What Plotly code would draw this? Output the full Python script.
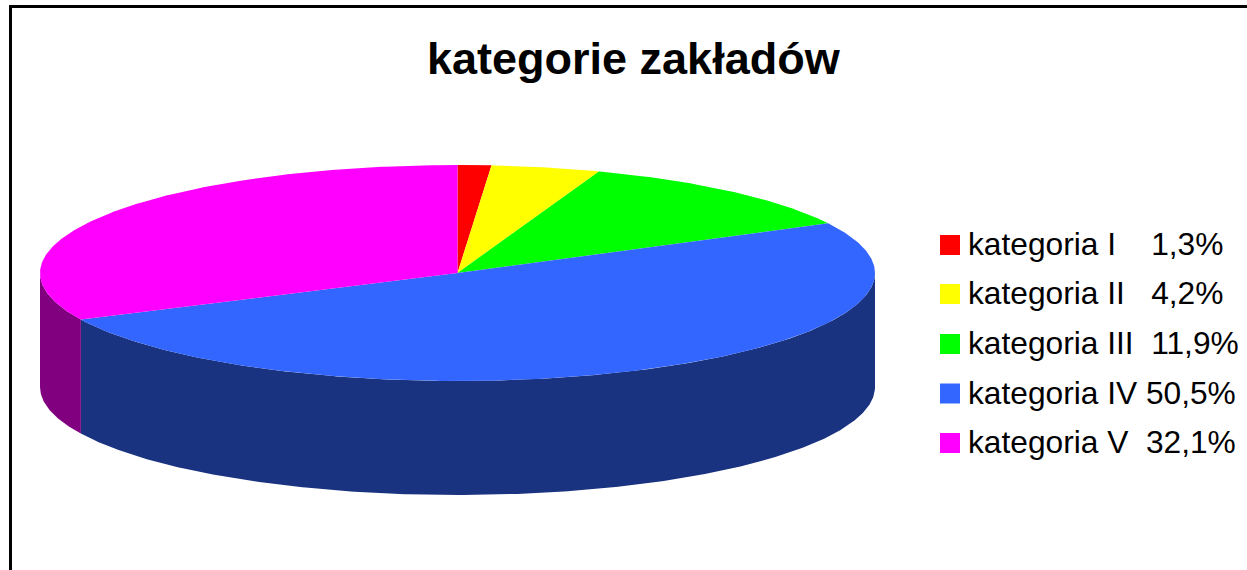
import numpy as np
import plotly.graph_objects as go

categories = ["kategoria I", "kategoria II", "kategoria III", "kategoria IV", "kategoria V"]
shares = [1.3, 4.2, 11.9, 50.5, 32.1]
share_labels = ["1,3%", "4,2%", "11,9%", "50,5%", "32,1%"]
gaps = [4, 3, 2, 1, 2]
top_colors = ["#ff0000", "#ffff00", "#00ff00", "#3366ff", "#ff00ff"]
side_colors = ["#800000", "#808000", "#008000", "#1a3380", "#800080"]
title = "kategorie zakładów"

CX, CY, RX, RY, DEPTH = 457.5, 273, 417.5, 108, 114
LEG_Y = [245, 294, 344, 393.5, 443]


def rim(a0, a1):
    t = np.radians(np.linspace(a0, a1, max(2, int(abs(a1 - a0) * 2) + 1)))
    return CX + RX * np.sin(t), CY - RY * np.cos(t)


fig = go.Figure()
edges = np.concatenate([[0], np.cumsum(shares)]) * 3.6

# walls first (only the part of the rim facing the viewer)
for i in range(len(shares)):
    a0, a1 = max(edges[i], 90), min(edges[i + 1], 270)
    if a1 <= a0:
        continue
    x, y = rim(a0, a1)
    fig.add_trace(go.Scatter(
        x=np.concatenate([x, x[::-1]]), y=np.concatenate([y, y[::-1] + DEPTH]),
        mode="lines", fill="toself", fillcolor=side_colors[i],
        line=dict(width=0), hoverinfo="skip", showlegend=False))

# top slices
for i in range(len(shares)):
    x, y = rim(edges[i], edges[i + 1])
    fig.add_trace(go.Scatter(
        x=np.concatenate([[CX], x, [CX]]), y=np.concatenate([[CY], y, [CY]]),
        mode="lines", fill="toself", fillcolor=top_colors[i],
        line=dict(width=0), name=categories[i], showlegend=False))

# legend swatches
fig.add_trace(go.Scatter(
    x=[950] * len(categories), y=LEG_Y, mode="markers",
    marker=dict(symbol="square", size=20, color=top_colors, line=dict(width=0)),
    hoverinfo="skip", showlegend=False))

FONT = "Liberation Sans, Arial, sans-serif"
annotations = [dict(x=633.5, y=58, text=f"<b>{title}</b>", showarrow=False,
                    xanchor="center", yanchor="middle",
                    font=dict(family=FONT, size=45, color="black"))]
for i, c in enumerate(categories):
    annotations.append(dict(
        x=966, y=LEG_Y[i] - 1, showarrow=False, xanchor="left", yanchor="middle",
        text=c + "\u00a0" * gaps[i] + share_labels[i],
        font=dict(family=FONT, size=31.7, color="black")))

frame = dict(color="black", width=3)
fig.update_layout(
    width=1247, height=570, margin=dict(l=0, r=0, t=0, b=0),
    paper_bgcolor="white", plot_bgcolor="white", showlegend=False,
    xaxis=dict(range=[0, 1247], visible=False, fixedrange=True),
    yaxis=dict(range=[570, 0], visible=False, fixedrange=True),
    annotations=annotations,
    shapes=[dict(type="line", x0=10.5, x1=10.5, y0=5, y1=570, line=frame),
            dict(type="line", x0=9, x1=1247, y0=6.5, y1=6.5, line=frame)],
)
fig.write_html("out.html", config=dict(displayModeBar=False),
               post_script="document.body.style.margin='0';")
